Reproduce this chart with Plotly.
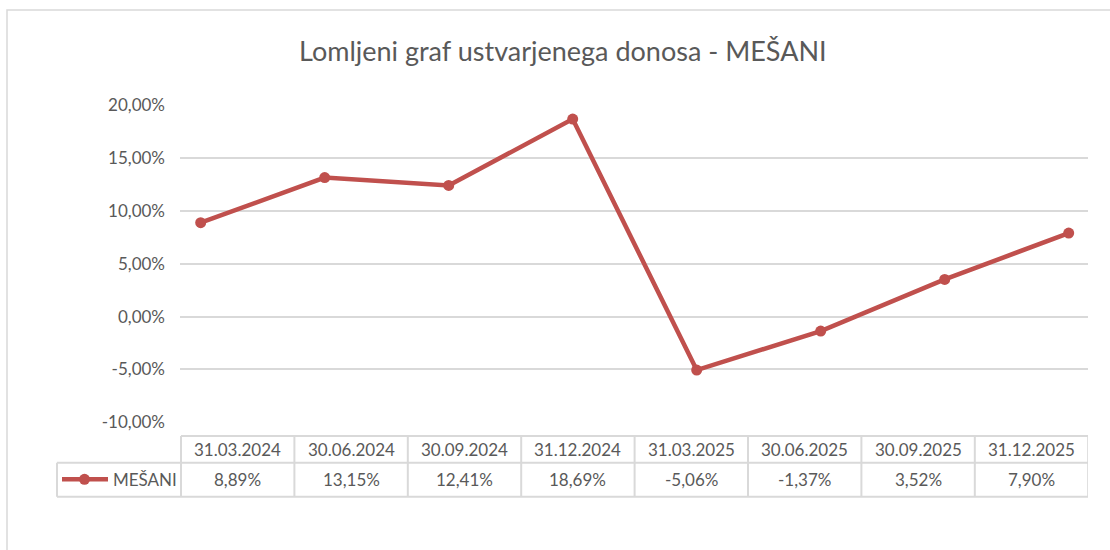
import plotly.graph_objects as go

# ---- data ----
categories = ["31.03.2024", "30.06.2024", "30.09.2024", "31.12.2024",
              "31.03.2025", "30.06.2025", "30.09.2025", "31.12.2025"]
values = [8.89, 13.15, 12.41, 18.69, -5.06, -1.37, 3.52, 7.90]
series_name = "MEŠANI"
title_text = "Lomljeni graf ustvarjenega donosa - MEŠANI"
y_tickvals = [20, 15, 10, 5, 0, -5, -10]
y_ticktext = ["20,00%", "15,00%", "10,00%", "5,00%", "0,00%", "-5,00%", "-10,00%"]

W, H = 1110, 550
FONT = "Lato"
TXT = "#595959"
GRID = "#d9d9d9"
RED = "#c0504d"


def px(xp):
    return xp / W


def py(yp):
    return 1 - yp / H


idx = list(range(len(values)))

fig = go.Figure()
fig.add_trace(go.Scatter(
    x=idx, y=values, mode="lines+markers", name=series_name,
    line=dict(color=RED, width=4.5),
    marker=dict(color=RED, size=11),
    showlegend=False, hoverinfo="skip",
))
# invisible trace to register the table axis
fig.add_trace(go.Scatter(
    x=[0, len(categories)], y=[None, None], xaxis="x2", yaxis="y",
    mode="lines", showlegend=False, hoverinfo="skip",
))

shapes = []
annotations = []

# outer chart frame
shapes.append(dict(type="rect", xref="paper", yref="paper",
                   x0=px(7), x1=px(1120), y0=py(10), y1=py(560),
                   line=dict(color=GRID, width=1.5), fillcolor="rgba(0,0,0,0)",
                   layer="below"))

# title
annotations.append(dict(text=title_text, xref="paper", yref="paper",
                        x=px(563), y=py(50), xanchor="center", yanchor="middle",
                        showarrow=False, font=dict(family=FONT, size=27, color=TXT)))

# data table
y_top, y_mid, y_bot = py(436), py(462.7), py(496.7)
n = len(categories)
tline = dict(color=GRID, width=2)
shapes.append(dict(type="line", xref="x2", yref="paper", x0=0, x1=n, y0=y_top, y1=y_top, line=tline))
shapes.append(dict(type="line", xref="paper", yref="paper", x0=px(57), x1=px(181), y0=y_mid, y1=y_mid, line=tline))
shapes.append(dict(type="line", xref="x2", yref="paper", x0=0, x1=n, y0=y_mid, y1=y_mid, line=tline))
shapes.append(dict(type="line", xref="paper", yref="paper", x0=px(57), x1=px(181), y0=y_bot, y1=y_bot, line=tline))
shapes.append(dict(type="line", xref="x2", yref="paper", x0=0, x1=n, y0=y_bot, y1=y_bot, line=tline))
shapes.append(dict(type="line", xref="paper", yref="paper", x0=px(57), x1=px(57), y0=y_mid, y1=y_bot, line=tline))
for i in range(n + 1):
    shapes.append(dict(type="line", xref="x2", yref="paper", x0=i, x1=i, y0=y_top, y1=y_bot, line=tline))

for i, (c, v) in enumerate(zip(categories, values)):
    annotations.append(dict(text=c, xref="x2", yref="paper", x=i + 0.5, y=py(449),
                            xanchor="center", yanchor="middle", showarrow=False,
                            font=dict(family=FONT, size=17, color=TXT)))
    annotations.append(dict(text=f"{v:.2f}".replace(".", ",") + "%", xref="x2", yref="paper",
                            x=i + 0.5, y=py(479.5), xanchor="center", yanchor="middle",
                            showarrow=False, font=dict(family=FONT, size=17, color=TXT)))

# legend key in table
shapes.append(dict(type="line", xref="paper", yref="paper", x0=px(62), x1=px(108),
                   y0=py(479.3), y1=py(479.3), line=dict(color=RED, width=4.5)))
shapes.append(dict(type="circle", xref="paper", yref="paper", x0=px(79), x1=px(90),
                   y0=py(473.8), y1=py(484.8), line=dict(color=RED, width=0), fillcolor=RED))
annotations.append(dict(text=series_name, xref="paper", yref="paper", x=px(111), y=py(479.5),
                        xanchor="left", yanchor="middle", showarrow=False,
                        font=dict(family=FONT, size=17, color=TXT)))

fig.update_layout(
    width=W, height=H,
    margin=dict(l=0, r=0, t=0, b=0, pad=0, autoexpand=False),
    paper_bgcolor="white", plot_bgcolor="rgba(0,0,0,0)",
    font=dict(family=FONT, color=TXT),
    xaxis=dict(domain=[px(180), px(1088)], range=[-20.7 / 124, 887.3 / 124],
               visible=False, showgrid=False, zeroline=False, automargin=False),
    xaxis2=dict(domain=[px(180), px(1088)], range=[-1 / 113.4, 907 / 113.4], anchor="y",
                overlaying="x", visible=False, showgrid=False, zeroline=False, automargin=False),
    yaxis=dict(domain=[py(422.3), py(105.2)], range=[-10, 20],
               tickvals=y_tickvals, ticktext=y_ticktext, automargin=False,
               showgrid=True, gridcolor=GRID, gridwidth=2, zeroline=False,
               showline=False, ticks="", ticklabelstandoff=14,
               tickfont=dict(family=FONT, size=17, color=TXT)),
    shapes=shapes,
    annotations=annotations,
)

fig.write_html("out.html")
